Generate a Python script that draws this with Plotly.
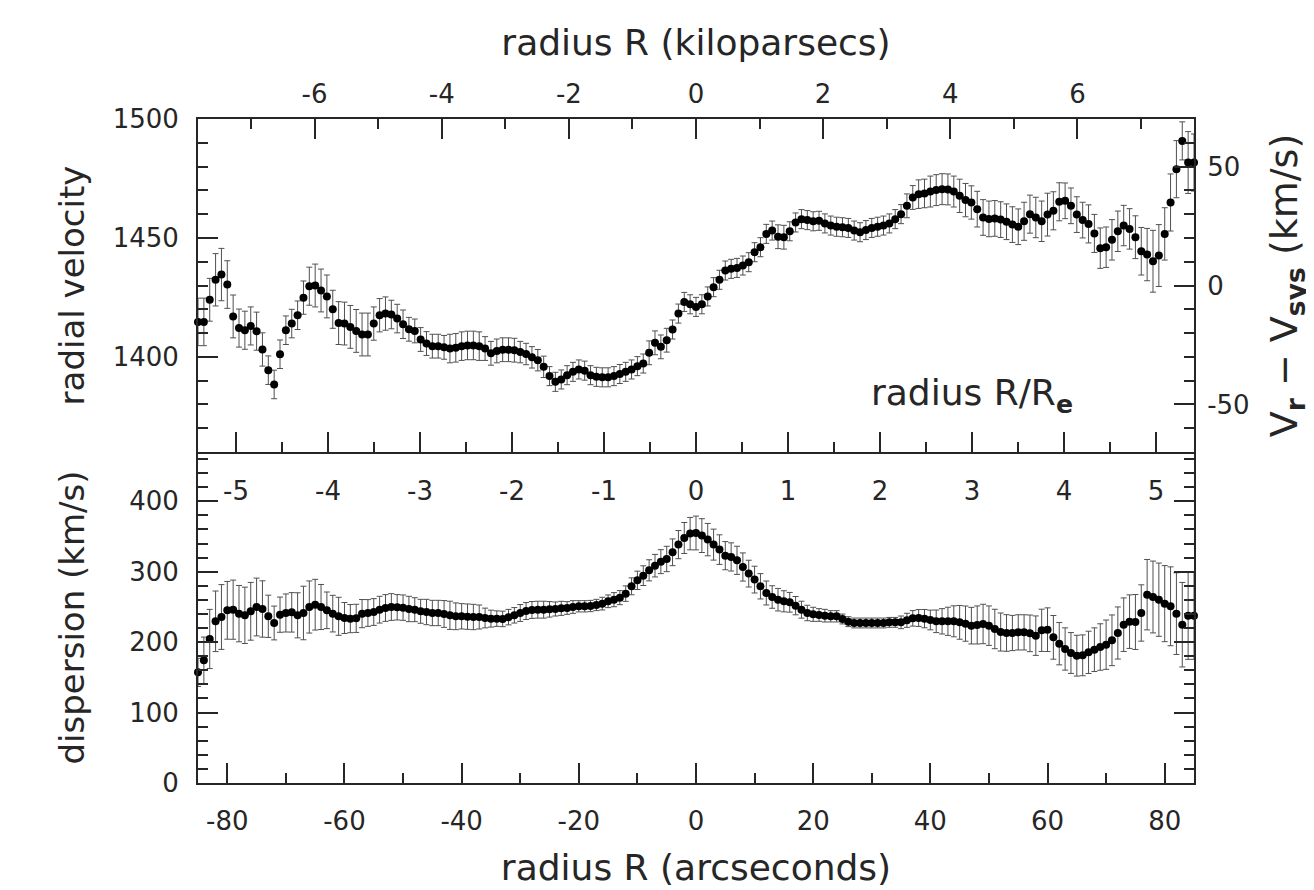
import plotly.graph_objects as go

# ---------------- data ----------------
# sampling positions along the slit, arcseconds
radius_arcsec = list(range(-85, 86))

radial_velocity = [
    1414.7, 1414.7, 1424.0, 1432.4, 1434.6, 1430.4, 1417.0, 1412.1, 1411.2, 1413.0,
    1410.8, 1403.1, 1394.4, 1388.4, 1401.1, 1411.2, 1414.0, 1417.5, 1424.9, 1429.7,
    1430.0, 1427.9, 1425.4, 1420.0, 1414.2, 1414.0, 1412.6, 1410.9, 1409.4, 1409.4,
    1414.0, 1417.5, 1418.2, 1417.8, 1416.1, 1413.7, 1411.6, 1410.9, 1407.3, 1405.6,
    1404.5, 1404.5, 1404.0, 1403.5, 1403.8, 1404.5, 1404.8, 1404.8, 1404.5, 1403.5,
    1401.5, 1402.5, 1403.0, 1403.0, 1402.8, 1402.0, 1401.2, 1399.8, 1398.6, 1395.8,
    1391.9, 1389.5, 1390.5, 1392.3, 1393.7, 1394.7, 1394.2, 1392.3, 1391.6, 1391.4,
    1391.4, 1391.9, 1392.8, 1393.7, 1394.7, 1396.1, 1397.2, 1401.7, 1405.9, 1404.2,
    1407.0, 1411.5, 1418.2, 1423.1, 1422.1, 1421.0, 1422.1, 1425.4, 1429.3, 1432.4,
    1436.3, 1437.0, 1437.4, 1438.4, 1439.8, 1444.0, 1446.1, 1451.7, 1453.1, 1450.5,
    1450.3, 1452.8, 1456.5, 1457.9, 1457.5, 1457.0, 1457.2, 1456.1, 1455.2, 1454.7,
    1454.5, 1454.2, 1453.1, 1452.4, 1453.3, 1454.2, 1454.7, 1455.2, 1456.1, 1457.9,
    1460.0, 1463.5, 1467.0, 1468.4, 1468.7, 1469.5, 1470.1, 1470.5, 1470.4, 1469.5,
    1467.7, 1465.9, 1464.9, 1462.1, 1458.6, 1458.0, 1458.2, 1457.7, 1456.8, 1455.6,
    1454.7, 1457.0, 1460.0, 1458.6, 1457.0, 1459.8, 1461.4, 1465.2, 1465.6, 1463.5,
    1459.8, 1457.5, 1455.9, 1451.9, 1445.7, 1446.1, 1449.2, 1452.8, 1455.2, 1453.8,
    1450.3, 1444.4, 1443.0, 1440.2, 1442.6, 1451.7, 1464.9, 1478.9, 1490.8, 1481.7, 1481.7,
]

velocity_error = [
    10, 10, 9, 11, 11, 10, 9, 8, 8, 8,
    8, 7, 6, 6, 6, 6, 6, 6, 7, 8,
    9, 9, 9, 8, 9, 9, 9, 9, 9, 9,
    7, 7, 7, 6, 6, 6, 5, 5, 5, 5,
    5, 5, 5, 6, 6, 6, 6, 6, 6, 5,
    5, 5, 5, 5, 5, 4.5, 4.5, 4.5, 4.5, 4.5,
    4, 4, 4, 4, 4, 4, 4, 4, 4, 4,
    4, 4, 4, 4, 4, 4, 4, 5, 5, 5,
    5, 4, 4, 4, 4, 4, 4, 4, 4, 4,
    4, 4, 4, 4, 4, 4, 4, 4, 4, 5,
    5, 4, 4, 4, 4, 4, 4, 4, 4, 4,
    4, 4, 4, 4, 4, 4, 4, 4, 4, 4,
    4, 5, 5, 6, 6, 6.5, 6.5, 6.5, 6.5, 6.5,
    7, 7, 7, 7.5, 7.5, 7.5, 7.5, 7.5, 7.5, 7.5,
    7.5, 8, 8, 8.5, 8.5, 9, 8, 8, 7.5, 7.5,
    7.5, 7.5, 8, 8, 8.5, 8.5, 8.5, 8.5, 8.5, 8.5,
    9, 10, 11, 13, 13, 11, 12, 12, 8, 13, 12,
]

dispersion = [
    157.1, 174.2, 204.5, 229.6, 235.7, 245.2, 246.1, 240.5, 238.1, 243.8,
    249.9, 247.1, 236.7, 227.2, 239.0, 241.4, 242.3, 238.1, 241.4, 249.9,
    253.2, 249.9, 245.2, 240.5, 236.7, 234.3, 233.4, 233.8, 240.5, 241.4,
    242.8, 246.1, 248.5, 249.9, 249.5, 249.0, 247.1, 246.1, 243.8, 242.8,
    241.4, 241.4, 240.0, 238.1, 236.7, 236.7, 236.2, 235.7, 235.7, 234.3,
    233.4, 233.4, 233.0, 235.5, 238.1, 241.4, 244.2, 245.7, 246.1, 246.1,
    246.6, 247.1, 248.0, 248.5, 249.9, 250.9, 250.9, 251.3, 252.8, 254.7,
    258.0, 260.3, 263.2, 268.9, 279.3, 287.8, 294.4, 302.0, 308.6, 314.3,
    318.1, 327.6, 338.5, 347.9, 354.1, 355.0, 351.3, 345.6, 338.5, 331.4,
    322.8, 321.0, 316.2, 306.7, 297.3, 288.8, 279.3, 269.8, 264.1, 260.3,
    258.0, 256.6, 251.8, 246.1, 241.4, 239.5, 238.6, 237.6, 236.7, 236.7,
    232.9, 229.1, 227.2, 227.2, 227.2, 227.2, 227.2, 227.2, 228.1, 228.1,
    228.1, 231.0, 233.8, 234.3, 233.4, 231.5, 229.6, 229.6, 229.6, 229.6,
    228.1, 226.3, 223.4, 224.4, 225.8, 223.4, 218.7, 214.4, 213.0, 213.0,
    213.9, 213.9, 212.5, 209.2, 216.8, 217.7, 206.8, 197.8, 190.3, 184.6,
    180.8, 181.3, 185.5, 189.3, 193.1, 196.4, 202.6, 213.0, 224.8, 229.1,
    228.6, 241.4, 267.4, 264.1, 260.3, 254.7, 250.9, 240.5, 224.8, 237.6, 237.6,
]

dispersion_error = [
    20, 33, 42, 43, 46, 41, 42, 40, 40, 41,
    41, 40, 30, 24, 25, 27, 28, 32, 38, 37,
    36, 32, 26, 26, 27, 22, 20, 20, 20, 19,
    19, 19, 19, 19, 18, 18, 18, 17, 17, 18,
    18, 18, 19, 20, 19, 18, 18, 18, 17, 14,
    12, 11, 11, 11, 11, 12, 12, 12, 12, 12,
    11, 10, 10, 9, 9, 8, 8, 8, 8, 9,
    9, 10, 10, 11, 12, 13, 14, 15, 16, 17,
    18, 19, 20, 22, 23, 24, 24, 23, 22, 21,
    20, 20, 20, 20, 19, 19, 18, 17, 16, 16,
    15, 14, 13, 12, 11, 10, 9, 9, 8, 8,
    7, 7, 7, 7, 7, 7, 7, 7, 7, 7,
    9, 10, 11, 12, 13, 14, 16, 18, 20, 22,
    24, 25, 26, 27, 28, 28, 28, 27, 26, 25,
    25, 25, 26, 28, 30, 31, 31, 30, 30, 29,
    29, 29, 30, 31, 33, 35, 36, 37, 38, 38,
    39, 40, 50, 51, 52, 54, 56, 58, 60, 62, 62,
]

# scale conversions
V_SYS = 1430.0          # km/s, zero point of the right-hand axis
ARCSEC_PER_KPC = 10.85  # arcsec per kiloparsec
ARCSEC_PER_RE = 15.7    # arcsec per effective radius

arcsec_ticks = [-80, -60, -40, -20, 0, 20, 40, 60, 80]
kpc_ticks = [-6, -4, -2, 0, 2, 4, 6]
re_ticks = [-5, -4, -3, -2, -1, 0, 1, 2, 3, 4, 5]
vel_ticks = [1400, 1450, 1500]
dvel_ticks = [-50, 0, 50]
disp_ticks = [0, 100, 200, 300, 400]

X_RANGE = [-85, 85]
VEL_RANGE = [1360, 1500]
DISP_RANGE = [0, 470]


def lab(v):
    return str(v)


# ---------------- styling ----------------
FONT = "DejaVu Sans"
INK = "#262626"
BAR = "#505050"
TICK_FONT = dict(family=FONT, size=26, color=INK)
XTITLE_FONT = dict(family=FONT, size=36, color=INK)
YTITLE_FONT = dict(family=FONT, size=34, color=INK)
RTITLE_FONT = dict(family=FONT, size=38, color=INK)
SPLIT = 331 / 664

common = dict(
    showgrid=False, zeroline=False, showline=True, linecolor=INK, linewidth=2,
    ticks="inside", ticklen=20, tickwidth=1.5, tickcolor=INK, tickfont=TICK_FONT,
    automargin=False,
)


def minor(d, t0=0):
    return dict(tickmode="linear", tick0=t0, dtick=d, ticks="inside", ticklen=10,
                tickwidth=1.5, tickcolor=INK, showgrid=False)


fig = go.Figure()

fig.add_trace(go.Scatter(
    x=radius_arcsec, y=dispersion, xaxis="x", yaxis="y", mode="markers",
    marker=dict(color="black", size=8),
    error_y=dict(type="data", array=dispersion_error, visible=True,
                 color=BAR, thickness=1, width=3),
    cliponaxis=False, showlegend=False, name="dispersion",
))

fig.add_trace(go.Scatter(
    x=radius_arcsec, y=radial_velocity, xaxis="x2", yaxis="y2", mode="markers",
    marker=dict(color="black", size=8),
    error_y=dict(type="data", array=velocity_error, visible=True,
                 color=BAR, thickness=1, width=3),
    cliponaxis=False, showlegend=False, name="radial velocity",
))

# invisible anchor traces so that the secondary (overlaying) axes get drawn
for xa, ya, xv, yv in [("x3", "y2", 0, 1400), ("x4", "y2", 0, 1400),
                       ("x5", "y", 0, 100), ("x2", "y3", 0, 0)]:
    fig.add_trace(go.Scatter(x=[xv], y=[yv], xaxis=xa, yaxis=ya, mode="markers",
                             marker=dict(opacity=0), hoverinfo="skip",
                             showlegend=False))

re_range = [X_RANGE[0] / ARCSEC_PER_RE, X_RANGE[1] / ARCSEC_PER_RE]
kpc_range = [X_RANGE[0] / ARCSEC_PER_KPC, X_RANGE[1] / ARCSEC_PER_KPC]

# the page body adds an 8 px margin, so the figure is 8 px smaller than the window
fig.update_layout(
    width=1306, height=882,
    paper_bgcolor="white", plot_bgcolor="white",
    margin=dict(l=190, r=120, t=111, b=107, pad=0, autoexpand=False),
    font=dict(family=FONT, color=INK),
    # bottom panel: arcsec axis
    xaxis=dict(
        **common, domain=[0, 1], anchor="y", range=X_RANGE,
        tickmode="array", tickvals=arcsec_ticks, ticktext=[lab(v) for v in arcsec_ticks],
        minor=minor(10), ticklabelstandoff=14,
        title=dict(text="radius R (arcseconds)", font=XTITLE_FONT, standoff=20),
    ),
    # top panel data axis (hidden)
    xaxis2=dict(domain=[0, 1], anchor="y2", range=X_RANGE, matches="x",
                visible=False, showgrid=False, zeroline=False, automargin=False),
    # top panel bottom edge: R/Re ticks
    xaxis3=dict(
        **common, overlaying="x2", anchor="y2", side="bottom", range=re_range,
        tickmode="array", tickvals=re_ticks, showticklabels=False,
        minor=minor(0.5, 0.5),
    ),
    # top panel top edge: kiloparsec axis
    xaxis4=dict(
        **common, overlaying="x2", anchor="y2", side="top", range=kpc_range,
        tickmode="array", tickvals=kpc_ticks, ticktext=[lab(v) for v in kpc_ticks],
        minor=minor(1), ticklabelstandoff=4,
        title=dict(text="radius R (kiloparsecs)", font=XTITLE_FONT, standoff=12),
    ),
    # R/Re labels written just inside the top of the bottom panel
    xaxis5=dict(
        showgrid=False, zeroline=False, showline=False,
        overlaying="x", anchor="free", position=0.4187, side="top",
        range=re_range, automargin=False,
        tickmode="array", tickvals=re_ticks, ticktext=[lab(v) for v in re_ticks],
        ticks="", tickfont=TICK_FONT, ticklabelstandoff=0,
    ),
    yaxis=dict(
        **common, domain=[0, SPLIT], anchor="x", range=DISP_RANGE,
        tickmode="array", tickvals=disp_ticks, ticktext=[lab(v) for v in disp_ticks],
        minor=minor(20), mirror="ticks", ticklabelstandoff=12,
        title=dict(text="dispersion (km/s)", font=YTITLE_FONT, standoff=34),
    ),
    yaxis2=dict(
        **common, domain=[SPLIT, 1], anchor="x2", range=VEL_RANGE,
        tickmode="array", tickvals=vel_ticks, ticktext=[lab(v) for v in vel_ticks],
        minor=minor(10), ticklabelstandoff=12,
        title=dict(text="radial velocity", font=YTITLE_FONT, standoff=18),
    ),
    yaxis3=dict(
        **common, overlaying="y2", anchor="x2", side="right",
        range=[VEL_RANGE[0] - V_SYS, VEL_RANGE[1] - V_SYS],
        tickmode="array", tickvals=dvel_ticks, ticktext=[lab(v) for v in dvel_ticks],
        minor=minor(10), ticklabelstandoff=6,
        title=dict(text="V<sub><b>r</b></sub> \u2212 V<sub><b>sys</b></sub> (km/s)",
                   font=RTITLE_FONT, standoff=22),
    ),
    annotations=[dict(
        text="radius R/R<sub><b>e</b></sub>", xref="paper", yref="paper",
        x=0.777, y=0.584, showarrow=False, xanchor="center", yanchor="middle",
        font=dict(family=FONT, size=36, color=INK),
    )],
)

fig.write_html("out.html")
